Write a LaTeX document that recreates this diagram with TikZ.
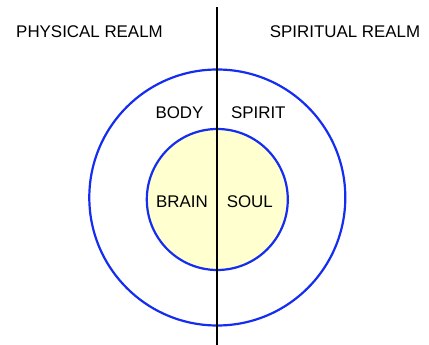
\documentclass[tikz,border=0pt]{standalone}
\usepackage{fontspec}
\setmainfont{Liberation Sans}
\definecolor{ringblue}{RGB}{20,45,240}
\definecolor{paleyellow}{RGB}{255,255,208}
\begin{document}
\begin{tikzpicture}[x=1pt,y=-1pt,
  ring/.style={circle, draw=ringblue, line width=2.2pt, inner sep=0pt},
  lbl/.style={font=\fontsize{16.9}{19}\selectfont, inner sep=0pt, anchor=center},
  divider/.style={draw=black, line width=2pt}]
\useasboundingbox (0,0) rectangle (429,345);
\node[ring, minimum size=256pt] (outer) at (217.3,197.5) {};
\node[ring, fill=paleyellow, minimum size=141pt] (inner) at (217.3,199.5) {};
\coordinate (top) at (217,7);
\coordinate (bottom) at (217,345);
\draw[divider] (top) -- (bottom);
\node[lbl] (phys) at (89.5,32) {PHYSICAL REALM};
\node[lbl] (spir) at (345,32) {SPIRITUAL REALM};
\node[lbl] (body) at (179.5,112.5) {BODY};
\node[lbl] (spirit) at (258.3,112.5) {SPIRIT};
\node[lbl] (brain) at (182,202) {BRAIN};
\node[lbl] (soul) at (249.8,202) {SOUL};
\end{tikzpicture}
\end{document}
